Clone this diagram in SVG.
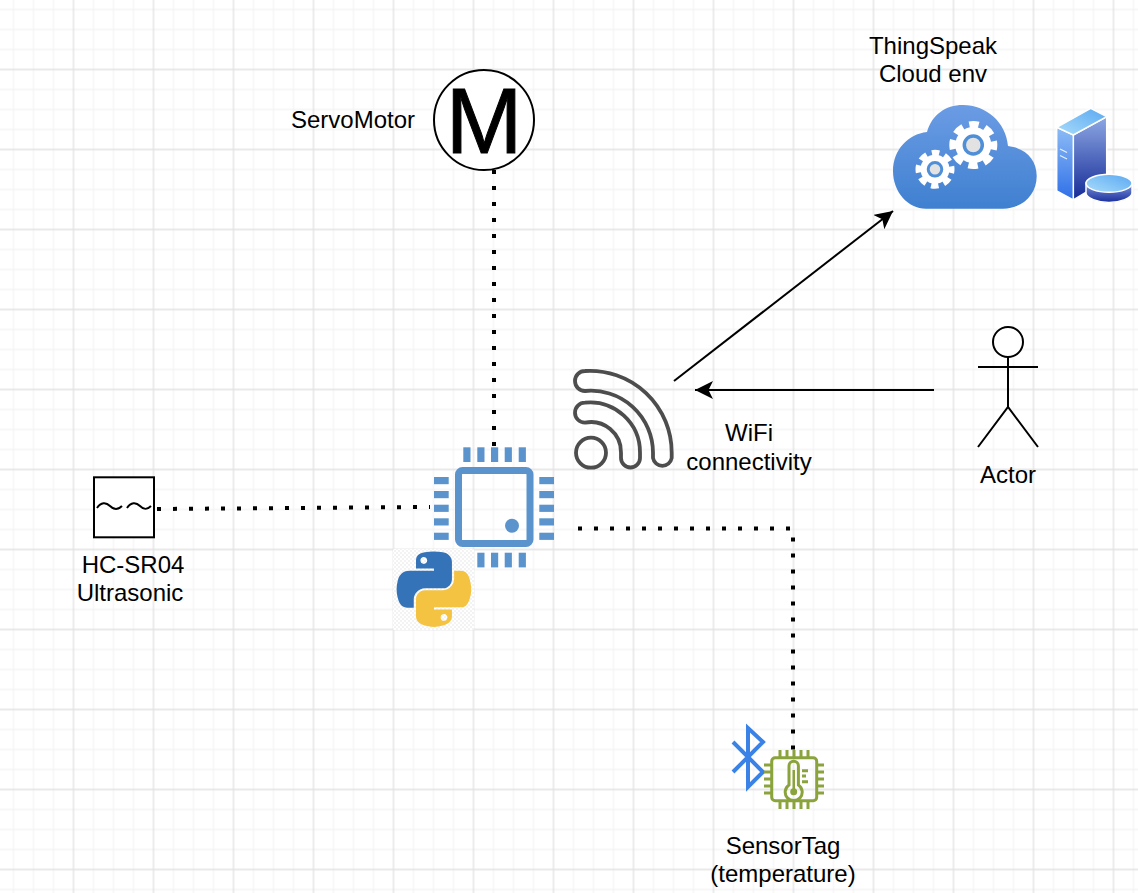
<svg xmlns="http://www.w3.org/2000/svg" width="1138" height="893" viewBox="0 0 1138 893">
<style>
text{font-family:"Liberation Sans",Arial,sans-serif;font-size:24px;fill:#000;text-anchor:middle}
.dot{fill:none;stroke:#000;stroke-width:4;stroke-dasharray:4 12}
.arr{fill:none;stroke:#000;stroke-width:2;marker-end:url(#head)}
.wifi{fill:none;stroke:#4d4d4d;stroke-width:3.800}
.pin{fill:#5b94cc}
.grn{fill:none;stroke:#8aa33c;stroke-width:3}
</style>
<defs>
<pattern id="grid" width="80" height="80" patternUnits="userSpaceOnUse" x="33.5" y="29.5">
<path d="M20 0V80M60 0V80M0 20H80M0 60H80M0 0V80M80 0V80M0 0H80M0 80H80" fill="none" stroke="#f5f5f5" stroke-width="1.300"/>
<path d="M40 0V80M0 40H80" fill="none" stroke="#e2e2e2" stroke-width="1.300"/>
</pattern>
<pattern id="chk" width="4" height="4" patternUnits="userSpaceOnUse">
<rect width="4" height="4" fill="#fff"/><rect width="2" height="2" fill="#f3f3f3"/><rect x="2" y="2" width="2" height="2" fill="#f3f3f3"/>
</pattern>
<marker id="head" markerUnits="userSpaceOnUse" markerWidth="20" markerHeight="20" refX="18" refY="9" orient="auto">
<path d="M0 0L18 9L0 18L4.500 9Z" fill="#000"/>
</marker>
<linearGradient id="cloudG" x1="0" y1="0" x2="0" y2="1"><stop offset="0" stop-color="#6b9ce4"/><stop offset="1" stop-color="#3f80d0"/></linearGradient>
<linearGradient id="sL" x1="0" y1="0" x2="0" y2="1"><stop offset="0" stop-color="#8dbcf5"/><stop offset="1" stop-color="#2f6fe8"/></linearGradient>
<linearGradient id="sR" x1="0" y1="0" x2="0" y2="1"><stop offset="0" stop-color="#8ea8e4"/><stop offset="1" stop-color="#142a96"/></linearGradient>
<linearGradient id="sT" x1="0" y1="1" x2="1" y2="0"><stop offset="0" stop-color="#a8dcfa"/><stop offset="1" stop-color="#5aa8f2"/></linearGradient>
<linearGradient id="dB" x1="0" y1="0" x2="0" y2="1"><stop offset="0" stop-color="#7d96dc"/><stop offset="1" stop-color="#1a2e9c"/></linearGradient>
</defs>
<rect width="1138" height="893" fill="#fff"/>
<rect width="1138" height="893" fill="url(#grid)"/>
<g id="connectors">
<path class="dot" d="M494 170V447"/>
<path class="dot" d="M157 509L430 507"/>
<path class="dot" d="M578 528.500H793V750"/>
<path class="arr" d="M674 381L893 211"/>
<path class="arr" d="M934 390H695"/>
</g>
<g id="servo">
<circle cx="484" cy="120" r="50" fill="#fff" stroke="#000" stroke-width="2"/>
<text x="484" y="153" style="font-size:92px;stroke:#000;stroke-width:1">M</text>
<text x="353" y="128">ServoMotor</text>
</g>
<g id="cloud">
<text x="933" y="54">ThingSpeak</text>
<text x="933" y="82">Cloud env</text>
<path d="M926 208.700H1003C1022 208.700 1036.700 195 1036.700 176C1036.700 160 1026 148 1008 146C1006 122 986 105 963 105C945 105 932 115 927 132C908 134 893 150 893 171C893 192 908 208.700 926 208.700Z" fill="url(#cloudG)"/>
<circle cx="973.300" cy="145" r="18" fill="#fff"/>
<circle cx="973.300" cy="145" r="20.500" fill="none" stroke="#fff" stroke-width="7" stroke-dasharray="9.500 6.600" stroke-dashoffset="4.700"/>
<circle cx="973.300" cy="145" r="9" fill="#e2e2e2" stroke="#4f8fd8" stroke-width="3.500"/>
<circle cx="935" cy="169.300" r="14.500" fill="#fff"/>
<circle cx="935" cy="169.300" r="16.500" fill="none" stroke="#fff" stroke-width="6" stroke-dasharray="7.500 5.460" stroke-dashoffset="3.700"/>
<circle cx="935" cy="169.300" r="6.800" fill="#e2e2e2" stroke="#4f8fd8" stroke-width="3"/>
</g>
<g id="server">
<path d="M1073.300 135L1106.700 116.700V180L1073.300 200Z" fill="url(#sR)" stroke="#fff" stroke-width="1.500"/>
<path d="M1056.700 127.300L1073.300 135V200L1056.700 191Z" fill="url(#sL)" stroke="#fff" stroke-width="1.500"/>
<path d="M1056.700 127.300L1090.700 108.300L1106.700 116.700L1073.300 135Z" fill="url(#sT)" stroke="#fff" stroke-width="1.500"/>
<path d="M1060 149L1067 152.500M1060 155.500L1067 159" stroke="#e8f0fc" stroke-width="1.200"/>
<path d="M1086 183V193C1086 198 1098 202.500 1109 202.500C1120 202.500 1132 198 1132 193V183Z" fill="url(#dB)" stroke="#fff" stroke-width="1.500"/>
<ellipse cx="1109" cy="183.300" rx="23" ry="9" fill="url(#sT)" stroke="#fff" stroke-width="1.500"/>
</g>
<g id="wifi">
<circle class="wifi" cx="591" cy="452.700" r="15"/>
<path class="wifi" d="M585 371A81.700 81.700 0 0 1 671.700 452.700V458A9.500 9.500 0 0 1 653 458V452.700A62 62 0 0 0 585 391A10 10 0 0 1 585 371Z"/>
<path class="wifi" d="M585 402.700A50 50 0 0 1 640 452.700V458A9.500 9.500 0 0 1 621 458V452.700A30 30 0 0 0 585 422.700A10 10 0 0 1 585 402.700Z"/>
<text x="749" y="441">WiFi</text>
<text x="749" y="470">connectivity</text>
</g>
<g id="actor">
<g fill="none" stroke="#000" stroke-width="2">
<circle cx="1008" cy="342" r="15" fill="#fff"/>
<path d="M1008 357V407M978 367H1038M978 447L1008 407L1038 447"/>
</g>
<text x="1008" y="483">Actor</text>
</g>
<g id="ultrasonic">
<rect x="94" y="477.300" width="60" height="60" fill="#fff" stroke="#000" stroke-width="2"/>
<path d="M97 508C101 502 106 502 110 506C114 510 118 510 122 506M127 508C131 502 136 502 140 506C144 510 147 510 151 506" fill="none" stroke="#000" stroke-width="2"/>
<text x="133" y="573">HC-SR04</text>
<text x="130" y="601">Ultrasonic</text>
</g>
<g id="board">
<rect x="458.500" y="470.500" width="71.500" height="73" rx="4" fill="none" stroke="#5b94cc" stroke-width="7"/>
<circle class="pin" cx="512" cy="525.700" r="7"/>
<g class="pin">
<rect x="463.300" y="447.300" width="7.200" height="14.700"/><rect x="477.300" y="447.300" width="7.200" height="14.700"/><rect x="491" y="447.300" width="7.200" height="14.700"/><rect x="504.700" y="447.300" width="7.200" height="14.700"/><rect x="518.700" y="447.300" width="7.200" height="14.700"/>
<rect x="477.300" y="552.700" width="7.200" height="14.700"/><rect x="491" y="552.700" width="7.200" height="14.700"/><rect x="504.700" y="552.700" width="7.200" height="14.700"/><rect x="518.700" y="552.700" width="7.200" height="14.700"/>
<rect x="434" y="477" width="14.700" height="7.200"/><rect x="434" y="491" width="14.700" height="7.200"/><rect x="434" y="504.700" width="14.700" height="7.200"/><rect x="434" y="518.300" width="14.700" height="7.200"/><rect x="434" y="532.700" width="14.700" height="7.200"/>
<rect x="539.300" y="477" width="14.700" height="7.200"/><rect x="539.300" y="491" width="14.700" height="7.200"/><rect x="539.300" y="504.700" width="14.700" height="7.200"/><rect x="539.300" y="518.300" width="14.700" height="7.200"/><rect x="539.300" y="532.700" width="14.700" height="7.200"/>
</g>
</g>
<g id="python">
<rect x="393" y="549" width="81" height="81" fill="url(#chk)"/>
<g transform="translate(397 551) scale(.665)">
<path fill="#3473b7" d="M54.900 0.900C50.300 0.900 46 1.300 42.100 2 30.700 4 28.600 8.200 28.600 16V26.300H55.600V29.700H18.500C10.600 29.700 3.600 34.500 1.400 43.600-1.100 54-1.200 60.500 1.400 71.400 3.400 79.500 8 85.300 15.900 85.300H25.200V72.900C25.200 63.900 33 56 42.100 56H69.100C76.600 56 82.600 49.800 82.600 42.300V16C82.600 8.700 76.400 3.200 69.100 2 64.400 1.200 59.600 0.900 54.900 0.900ZM40.300 9.200C43.100 9.200 45.400 11.500 45.400 14.300 45.400 17.100 43.100 19.400 40.300 19.400 37.500 19.400 35.200 17.100 35.200 14.300 35.200 11.500 37.500 9.200 40.300 9.200Z"/>
<path fill="#f5c342" d="M85.900 29.700V41.800C85.900 51.100 78 59 69.100 59H42.100C34.700 59 28.600 65.300 28.600 72.700V98.400C28.600 105.700 35 110 42.100 112.100 50.600 114.600 58.800 115 69.100 112.100 75.900 110.100 82.600 106.100 82.600 98.400V88.100H55.600V84.700H96.100C104 84.700 106.900 79.200 109.600 71 112.400 62.600 112.300 54.500 109.600 43.600 107.700 35.800 104 29.700 96.100 29.700ZM70.700 94.800C73.500 94.800 75.800 97.100 75.800 99.900 75.800 102.700 73.500 105 70.700 105 67.900 105 65.600 102.700 65.600 99.900 65.600 97.100 67.900 94.800 70.700 94.800Z"/>
</g>
</g>
<g id="sensortag">
<path d="M733 742L763 772L748 787V728L763 742L733 772" fill="none" stroke="#3b82e6" stroke-width="4"/>
<rect class="grn" x="771.700" y="757.700" width="45" height="43" rx="3.500" fill="#fff"/>
<path class="grn" d="M780 750V757M787 750V757M794 750V757M801 750V757M808 750V757M780 801V809M787 801V809M794 801V809M801 801V809M808 801V809M764 765H771M764 772H771M764 779H771M764 786H771M764 793H771M817 765H824M817 772H824M817 779H824M817 786H824M817 793H824"/>
<path class="grn" d="M789 785V766A4.700 4.700 0 0 1 798.400 766V785A8.500 8.500 0 1 1 789 785Z"/>
<circle cx="793.700" cy="791.700" r="3.500" fill="#8aa33c"/>
<path d="M792.500 770H795V790H792.500Z" fill="#8aa33c"/>
<path class="grn" d="M802 770.700H808M802 776H806M802 781.700H808"/>
<text x="783" y="854">SensorTag</text>
<text x="783" y="882">(temperature)</text>
</g>
</svg>
